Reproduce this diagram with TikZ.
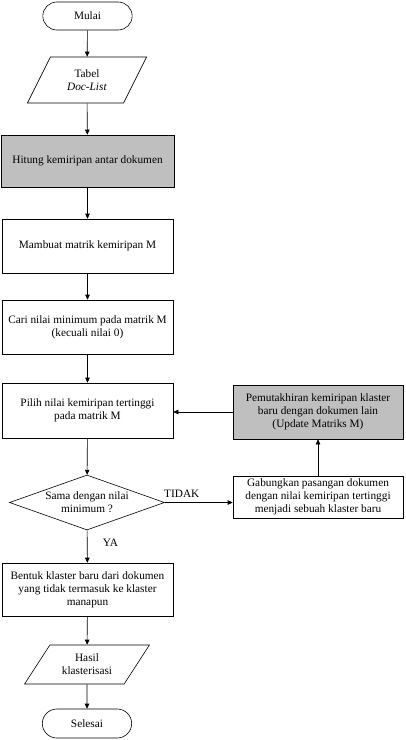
\documentclass[tikz,border=0pt]{standalone}
\usepackage{fontspec}
\setmainfont{Liberation Serif}
\usetikzlibrary{shapes.geometric, shapes.misc, arrows.meta, positioning}
\definecolor{abu}{HTML}{BFBFBF}

\tikzset{
  proses/.style={draw, rectangle, minimum width=171pt, minimum height=54pt, align=center, inner sep=2pt},
  proseskelabu/.style={proses, fill=abu},
  io/.style={draw, trapezium, trapezium left angle=60, trapezium right angle=120, trapezium stretches=true, align=center, inner sep=1pt},
  terminal/.style={draw, rounded rectangle, minimum width=96pt, minimum height=28pt},
  keputusan/.style={draw, diamond, aspect=2.8, inner sep=0pt, minimum width=155pt, minimum height=55pt, align=center},
  panah/.style={-{Triangle[length=5pt,width=4.5pt]}},
}

\begin{document}
\begin{tikzpicture}[x=1pt, y=-1pt, line width=0.6pt, font=\fontsize{11.3}{12.8}\selectfont]
            \useasboundingbox (0,0) rectangle (405,740);
            % alur utama
            \node[terminal] (mulai) at (87.5,16) {Mulai};
            \node[io, minimum width=120pt, minimum height=46pt] (tabel) at (87,80) {Tabel\\\textit{Doc-List}};
            \node[proseskelabu, minimum width=173pt, minimum height=52pt] (hitung) at (87.5,161) {Hitung kemiripan antar dokumen};
            \node[proses] (matrik) at (87.5,246) {Mambuat matrik kemiripan M};
            \node[proses] (cari) at (87.5,327) {Cari nilai minimum pada matrik M\\(kecuali nilai 0)};
            \node[proses, minimum height=55pt] (pilih) at (87.5,410.5) {Pilih nilai kemiripan tertinggi\\pada matrik M};
            \node[keputusan] (sama) at (87,502.5) {Sama dengan nilai\\minimum ?};
            \node[proses, minimum height=53pt] (bentuk) at (87.5,589.5) {Bentuk klaster baru dari dokumen\\yang tidak termasuk ke klaster\\manapun};
            \node[io, trapezium left angle=52, trapezium right angle=128, minimum width=126pt, minimum height=39pt] (hasil) at (87,664.5) {Hasil\\klasterisasi};
            \node[terminal, minimum height=29pt] (selesai) at (87,723.5) {Selesai};
            % cabang kanan
            \node[proses, minimum width=170pt, minimum height=42pt] (gabung) at (318,497) {Gabungkan pasangan dokumen\\dengan nilai kemiripan tertinggi\\menjadi sebuah klaster baru};
            \node[proseskelabu, minimum width=170pt] (update) at (318,412) {Pemutakhiran kemiripan klaster\\baru dengan dokumen lain\\(Update Matriks M)};

            \draw[panah] (mulai) -- (tabel);
            \draw[panah] (tabel) -- (hitung);
            \draw[panah] (hitung) -- (matrik);
            \draw[panah] (matrik) -- (cari);
            \draw[panah] (cari) -- (pilih);
            \draw[panah] (pilih) -- (sama);
            \draw[panah] (sama.east) -- node[pos=0.25, above=1pt] (tidak) {TIDAK} (sama.east -| gabung.west);
            \draw[panah] (gabung) -- (update);
            \draw[panah] (update.west) -- (update.west -| pilih.east);
            \draw[panah] (sama) -- node[pos=0.4, right=12pt] (ya) {YA} (bentuk);
            \draw[panah] (bentuk) -- (hasil);
            \draw[panah] (hasil) -- (selesai);
        \end{tikzpicture}
\end{document}
